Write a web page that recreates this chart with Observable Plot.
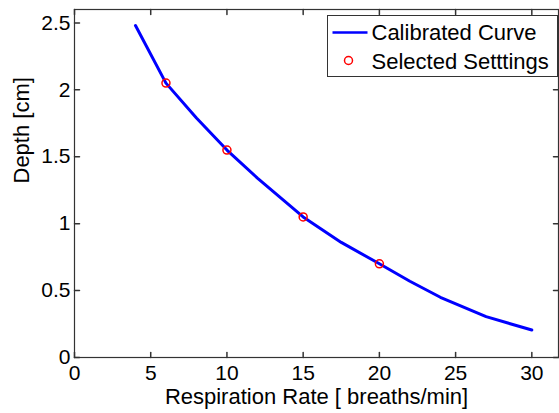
<!DOCTYPE html>
<html>
<head>
<meta charset="utf-8">
<script src="https://cdn.jsdelivr.net/npm/d3@7"></script>
<script src="https://cdn.jsdelivr.net/npm/@observablehq/plot@0.6"></script>
<style>
  html, body { margin: 0; padding: 0; background: #fff; }
  #chart { width: 559px; height: 413px; }
  svg { font-family: "Liberation Sans", Arial, sans-serif; }
</style>
</head>
<body>
<div id="chart"></div>
<script>
// Calibrated curve (respiration rate -> depth)
const curveRate  = [4, 6, 8, 10, 12, 15, 17.5, 20, 22, 24, 27, 30];
const curveDepth = [2.48, 2.05, 1.79, 1.55, 1.34, 1.05, 0.86, 0.70, 0.57, 0.45, 0.305, 0.205];
// Selected settings
const selRate  = [6, 10, 15, 20];
const selDepth = [2.05, 1.55, 1.05, 0.70];
// Tick labels
const xTicks = [0, 5, 10, 15, 20, 25, 30];
const yTicks = [0, 0.5, 1, 1.5, 2, 2.5];
const xLabel = "Respiration Rate [ breaths/min]";
const yLabel = "Depth [cm]";
const legendLabels = ["Calibrated Curve", "Selected Setttings"];

const curve = curveRate.map((r, i) => ({rate: r, depth: curveDepth[i]}));
const sel = selRate.map((r, i) => ({rate: r, depth: selDepth[i]}));

const axisColor = "#333";
const lineShape = {draw(ctx, l) { ctx.moveTo(0, 0); ctx.lineTo(0, -l); }};

const chart = Plot.plot({
  width: 559,
  height: 413,
  marginLeft: 74,
  marginRight: 1,
  marginTop: 9,
  marginBottom: 56,
  style: {fontFamily: "'Liberation Sans', Arial, sans-serif", color: "#000", background: "#fff"},
  x: {domain: [0, 31.75]},
  y: {domain: [0, 2.6]},
  marks: [
    Plot.frame({stroke: axisColor, strokeWidth: 1.2}),
    // inward ticks, all four sides
    Plot.vector(xTicks, {x: d => d, frameAnchor: "bottom", length: 5, rotate: 0, anchor: "start", shape: lineShape, stroke: axisColor}),
    Plot.vector(xTicks, {x: d => d, frameAnchor: "top", length: 5, rotate: 180, anchor: "start", shape: lineShape, stroke: axisColor}),
    Plot.vector(yTicks, {y: d => d, frameAnchor: "left", length: 5, rotate: 90, anchor: "start", shape: lineShape, stroke: axisColor}),
    Plot.vector(yTicks, {y: d => d, frameAnchor: "right", length: 5, rotate: -90, anchor: "start", shape: lineShape, stroke: axisColor}),
    Plot.axisX({ticks: xTicks, tickSize: 0, tickPadding: 8, fontSize: 21, label: null, tickFormat: d => String(d), fill: "#000"}),
    Plot.axisY({ticks: yTicks, tickSize: 0, tickPadding: 4, fontSize: 21, label: null, tickFormat: d => String(d), fill: "#000"}),
    Plot.text([xLabel], {text: d => d, frameAnchor: "bottom", dy: 46, lineAnchor: "bottom", fontSize: 22, fill: "#000"}),
    Plot.text([yLabel], {text: d => d, frameAnchor: "left", dx: -53, rotate: -90, lineAnchor: "middle", fontSize: 22, fill: "#000"}),
    Plot.line(curve, {x: "rate", y: "depth", stroke: "#0000ff", strokeWidth: 3}),
    Plot.dot(sel, {x: "rate", y: "depth", r: 4, stroke: "#ff0000", strokeWidth: 1.5, fill: "none"}),
    // legend box
    Plot.frame({insetLeft: 253, insetTop: 6, insetRight: 1, insetBottom: 281, fill: "#fff", stroke: axisColor, strokeWidth: 1}),
    Plot.frame({insetLeft: 258, insetRight: 191, insetTop: 21.75, insetBottom: 323.75, fill: "#0000ff", stroke: null}),
    Plot.dot([legendLabels[1]], {frameAnchor: "top-left", dx: 274, dy: 51, r: 4, stroke: "#ff0000", strokeWidth: 1.5, fill: "none"}),
    Plot.text([legendLabels[0]], {text: d => d, frameAnchor: "top-left", dx: 297, dy: 30, textAnchor: "start", lineAnchor: "bottom", fontSize: 22, fill: "#000"}),
    Plot.text([legendLabels[1]], {text: d => d, frameAnchor: "top-left", dx: 297, dy: 59, textAnchor: "start", lineAnchor: "bottom", fontSize: 22, fill: "#000"})
  ]
});
document.getElementById("chart").appendChild(chart);
</script>
</body>
</html>
